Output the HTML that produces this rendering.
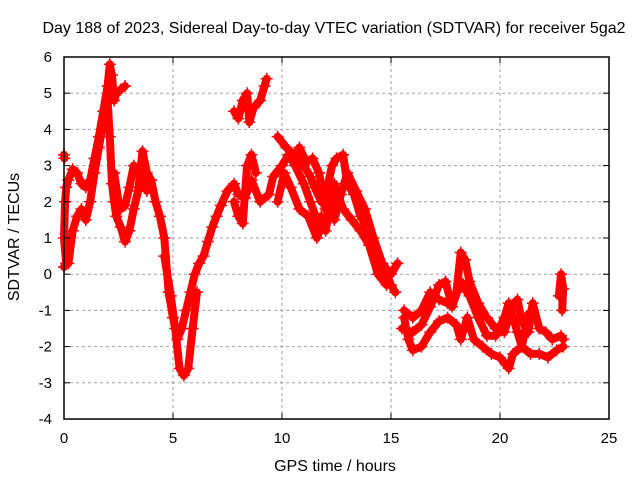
<!DOCTYPE html>
<html><head><meta charset="utf-8"><style>
html,body{margin:0;padding:0;background:#fff;}
svg{display:block;font-family:"Liberation Sans",sans-serif;}
</style></head><body>
<svg id="chart" width="640" height="480">
<text x="334" y="33" font-size="16" text-anchor="middle" fill="#000">Day 188 of 2023, Sidereal Day-to-day VTEC variation (SDTVAR) for receiver 5ga2</text>
<text x="335" y="471" font-size="16" text-anchor="middle">GPS time / hours</text>
<text transform="translate(19,237) rotate(-90)" font-size="16" text-anchor="middle">SDTVAR / TECUs</text>
<g id="grid"></g>
<g id="series"></g>
<rect x="64" y="57" width="545" height="362" fill="none" stroke="#000" stroke-width="1.5"/>
<g id="ticks"></g>
</svg>
<script>
const xTicks=[0,5,10,15,20,25];
const yTicks=[-4,-3,-2,-1,0,1,2,3,4,5,6];
const track1X=[0.0,0.1,0.0,0.05,0.1,0.2,0.4,0.6,0.8,1.0,1.2,1.4,1.6,1.8,2.0,2.1,2.2,2.3,2.4,2.6,2.8];
const track1Y=[0.2,0.3,1.0,2.0,2.4,2.6,2.9,2.8,2.5,2.4,2.6,3.2,3.8,4.5,5.2,5.8,5.5,4.8,5.0,5.1,5.2];
const track2X=[0.2,0.4,0.6,0.8,1.0,1.2,1.4,1.6,1.8,2.0,2.1,2.2,2.3,2.4,2.6,2.8,3.0,3.2,3.4,3.6,3.8,4.0,4.2,4.4,4.6,4.8,5.0,5.2,5.4,5.6,5.8,6.0,6.2,6.4,6.6,6.8,7.0,7.2,7.5,7.8,8.0,8.3,8.6,9.0,9.4,9.6,10.0,10.3,10.6,11.0,11.3,11.6,11.8];
const track2Y=[0.3,1.2,1.6,1.8,1.5,2.0,2.8,3.5,4.2,4.8,3.8,2.5,2.0,1.6,1.3,0.9,1.2,1.8,2.3,3.4,2.8,2.6,2.0,1.6,1.0,-0.5,-1.2,-1.8,-1.5,-1.0,-0.5,0.0,0.3,0.5,0.9,1.3,1.6,1.9,2.3,2.5,2.2,2.1,2.6,2.0,2.2,2.7,3.0,3.3,3.0,2.5,2.0,1.5,1.2];
const track3X=[2.3,2.5,2.6,2.8,3.0,3.2,3.4,3.6,3.8];
const track3Y=[2.8,2.0,1.8,1.9,2.4,3.0,2.8,2.6,2.3];
const track4X=[4.6,4.9,5.1,5.3,5.5,5.7,5.9,6.1];
const track4Y=[0.5,-0.6,-1.5,-2.6,-2.8,-2.6,-1.5,-0.5];
const track5X=[7.8,8.0,8.2,8.4,8.5,8.7,9.0,9.2,9.3];
const track5Y=[4.5,4.3,4.8,5.0,4.2,4.6,4.8,5.2,5.4];
const track6X=[7.8,8.0,8.2,8.4,8.6,8.8];
const track6Y=[2.0,1.6,1.4,3.0,3.3,2.8];
const track7X=[9.8,10.2,10.5,10.8,11.0,11.3,11.5,11.8,12.0,12.3,12.5,12.8,13.0,13.3,13.6,14.0,14.4,14.8,15.0,15.2];
const track7Y=[3.8,3.5,3.3,3.2,3.0,2.7,2.4,2.0,2.2,3.0,3.2,3.3,2.5,2.2,1.6,1.2,0.5,0.0,-0.3,-0.5];
const track8X=[10.5,10.8,11.1,11.4,11.7,12.0,12.4,12.7,13.0,13.4,13.8,14.2,14.6,15.0,15.3];
const track8Y=[3.2,3.5,3.1,3.2,2.8,1.8,1.5,2.2,2.8,2.3,1.8,1.0,0.3,0.0,0.3];
const track9X=[9.8,10.1,10.4,10.8,11.2,11.6,11.8,12.0,12.4,12.8,13.2,13.6,14.0,14.4,14.8];
const track9Y=[2.0,2.8,2.4,1.8,1.6,1.0,1.6,1.2,2.5,1.8,1.5,1.2,0.8,0.0,-0.3];
const track10X=[15.6,15.8,16.0,16.4,16.8,17.2,17.6,18.0,18.2,18.5,18.8,19.2,19.6,20.0,20.4,20.6,21.0,21.4,21.8,22.2,22.6,22.9];
const track10Y=[-1.2,-1.8,-2.1,-2.0,-1.6,-1.3,-1.2,-1.4,-1.8,-1.2,-1.8,-2.0,-2.2,-2.3,-2.6,-2.2,-2.0,-2.2,-2.2,-2.3,-2.1,-2.0];
const track11X=[15.6,16.0,16.4,16.8,17.2,17.6,18.0,18.2,18.4,18.6,19.0,19.4,19.8,20.2,20.5,20.8,21.0,21.3,21.5,21.8,22.1,22.4,22.8,22.9];
const track11Y=[-1.0,-1.2,-1.0,-0.5,-0.7,-0.8,-0.5,0.6,0.4,-0.2,-0.8,-1.2,-1.5,-1.6,-1.0,-0.7,-1.3,-1.6,-0.8,-1.5,-1.6,-1.8,-1.7,-1.8];
const track12X=[15.5,16.0,16.4,16.8,17.2,17.5,17.8,18.2,18.6,19.0,19.4,19.8,20.2,20.4,20.8,21.0,21.3];
const track12Y=[-1.5,-1.6,-1.4,-0.9,-0.3,-0.2,-0.9,-0.2,-0.6,-1.2,-1.7,-1.7,-1.2,-0.8,-1.6,-2.0,-1.1];
const track13X=[22.7,22.8,22.9,22.85];
const track13Y=[-0.6,0.0,-0.4,-1.0];
const track14X=[0.0,0.02];
const track14Y=[3.3,3.2];

const L=64,R=609,T=57,B=419;
const xs=v=>L+(v-0)/(25-0)*(R-L);
const ys=v=>B-(v-(-4))/(6-(-4))*(B-T);
const NS='http://www.w3.org/2000/svg';
const grid=document.getElementById('grid'),ticks=document.getElementById('ticks'),ser=document.getElementById('series');
function mk(tag,attrs,parent){const e=document.createElementNS(NS,tag);for(const k in attrs)e.setAttribute(k,attrs[k]);parent.appendChild(e);return e;}
xTicks.forEach(t=>{const x=xs(t);
 if(t>0&&t<25){const g=mk('line',{x1:x,x2:x,y1:T,y2:B,stroke:'#a0a0a0','stroke-dasharray':'3,3'},grid);
 
 }
 const a=mk('line',{x1:x,x2:x,y1:B,y2:B-6,stroke:'#000'},ticks);
 const b=mk('line',{x1:x,x2:x,y1:T,y2:T+6,stroke:'#000'},ticks);
 const tx=mk('text',{x:x,y:B+24,'font-size':15,'text-anchor':'middle'},ticks);tx.textContent=t;
 
 });
yTicks.forEach(t=>{const y=ys(t);
 if(t>-4&&t<6){const g=mk('line',{x1:L,x2:R,y1:y,y2:y,stroke:'#a0a0a0','stroke-dasharray':'3,3'},grid);
 
 }
 const a=mk('line',{x1:L,x2:L+6,y1:y,y2:y,stroke:'#000'},ticks);
 const b=mk('line',{x1:R,x2:R-6,y1:y,y2:y,stroke:'#000'},ticks);
 const tx=mk('text',{x:L-12,y:y+5,'font-size':15,'text-anchor':'end'},ticks);tx.textContent=t;
 
 });
const tracks=[[track1X,track1Y],[track2X,track2Y],[track3X,track3Y],[track4X,track4Y],[track5X,track5Y],[track6X,track6Y],[track7X,track7Y],[track8X,track8Y],[track9X,track9Y],[track10X,track10Y],[track11X,track11Y],[track12X,track12Y],[track13X,track13Y],[track14X,track14Y]];
tracks.forEach(([X,Y])=>{
 const pts=X.map((v,i)=>xs(v)+','+ys(Y[i])).join(' ');
 const pl=mk('polyline',{points:pts,fill:'none',stroke:'#ff0000','stroke-width':8,'stroke-linejoin':'round','stroke-linecap':'round'},ser);
 
 
 X.forEach((v,i)=>{const x=xs(v),y=ys(Y[i]);
  const p=mk('path',{d:`M${x-6},${y}H${x+6}M${x},${y-6}V${y+6}`,stroke:'#ff0000','stroke-width':1.5},ser);
  
  });
});
</script>
</body></html>
